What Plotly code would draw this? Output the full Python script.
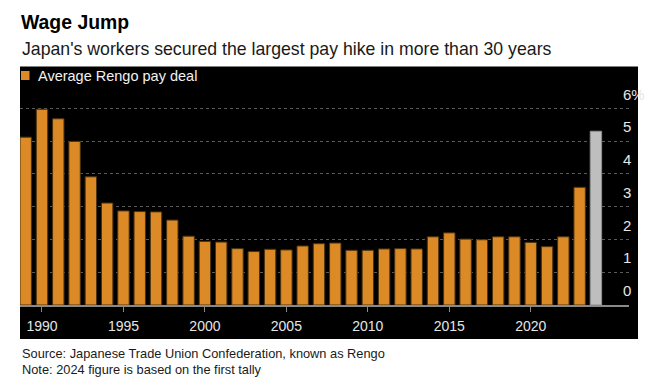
import plotly.graph_objects as go

years = list(range(1989, 2025))
pay_deal = [5.12, 5.97, 5.68, 4.99, 3.91, 3.11, 2.87, 2.85, 2.84, 2.59,
            2.10, 1.94, 1.92, 1.72, 1.63, 1.70, 1.68, 1.80, 1.87, 1.89,
            1.67, 1.67, 1.71, 1.72, 1.71, 2.08, 2.20, 2.01, 1.99, 2.08,
            2.08, 1.91, 1.78, 2.08, 3.59, 5.30]
preliminary_year = 2024
x_tick_vals = [1990, 1995, 2000, 2005, 2010, 2015, 2020]
y_tick_vals = [0, 1, 2, 3, 4, 5, 6]
y_tick_text = ["0", "1", "2", "3", "4", "5", "6%"]

# The page body has an 8px margin; work in reference-pixel coords and offset.
OFF = 8
W, H = 659 - OFF, 392 - 2 * OFF
L, R, B = 20, 629, 305          # plot area edges in reference px
UNIT = (305 - 108.7) / 6        # px per percentage point
YMAX = 6.1
T = B - YMAX * UNIT
pw, ph = R - L, B - T

def px_x(p):
    return (p - L) / pw

def px_y(p):
    return (B - p) / ph

ORANGE = "#DC8A25"
GREY = "#BEBEBE"
colors = [GREY if y == preliminary_year else ORANGE for y in years]
lines = ["#8f8f8f" if y == preliminary_year else "#4a3210" for y in years]

FONT = "Liberation Sans, Arial, sans-serif"

fig = go.Figure()
fig.add_trace(go.Bar(
    x=years, y=pay_deal, width=0.70,
    marker=dict(color=colors, line=dict(color=lines, width=1)),
    name="Average Rengo pay deal", showlegend=False,
    hoverinfo="x+y",
))

shapes = [
    dict(type="rect", xref="paper", yref="paper", layer="below",
         x0=px_x(20), x1=px_x(638), y0=px_y(339), y1=px_y(67),
         fillcolor="black", line=dict(width=0)),
    dict(type="rect", xref="paper", yref="paper",
         x0=px_x(21), x1=px_x(29.5), y0=px_y(80.5), y1=px_y(71.5),
         fillcolor=ORANGE, line=dict(width=0)),
]

annotations = [
    dict(text="<b>Wage Jump</b>", x=px_x(19), y=px_y(23), xref="paper", yref="paper",
         xanchor="left", yanchor="middle", showarrow=False,
         font=dict(family=FONT, size=19.4, color="#000000")),
    dict(text="Japan's workers secured the largest pay hike in more than 30 years",
         x=px_x(19.5), y=px_y(49.5), xref="paper", yref="paper",
         xanchor="left", yanchor="middle", showarrow=False,
         font=dict(family=FONT, size=17.7, color="#1a1a1a")),
    dict(text="Average Rengo pay deal", x=px_x(36), y=px_y(76), xref="paper", yref="paper",
         xanchor="left", yanchor="middle", showarrow=False,
         font=dict(family=FONT, size=14.5, color="#f2f2f2")),
    dict(text="Source: Japanese Trade Union Confederation, known as Rengo",
         x=px_x(20), y=px_y(353.5), xref="paper", yref="paper",
         xanchor="left", yanchor="middle", showarrow=False,
         font=dict(family=FONT, size=12.8, color="#1a1a1a")),
    dict(text="Note: 2024 figure is based on the first tally",
         x=px_x(20), y=px_y(369), xref="paper", yref="paper",
         xanchor="left", yanchor="middle", showarrow=False,
         font=dict(family=FONT, size=12.8, color="#1a1a1a")),
]

fig.update_layout(
    width=W, height=H,
    margin=dict(l=L - OFF, r=W - (R - OFF), t=T - OFF, b=H - (B - OFF), pad=0),
    paper_bgcolor="white", plot_bgcolor="black",
    shapes=shapes, annotations=annotations,
    font=dict(family=FONT),
    xaxis=dict(
        range=[1988.65, 2026.03], tickvals=x_tick_vals,
        ticks="outside", ticklen=5, tickcolor="#8a8a8a", tickwidth=1,
        showline=True, linecolor="#8a8a8a", linewidth=1.5,
        showgrid=False, zeroline=False, ticklabelstandoff=2,
        tickfont=dict(family=FONT, size=14, color="#e6e6e6"),
        fixedrange=True,
    ),
    yaxis=dict(
        range=[0, YMAX], side="right", tickvals=y_tick_vals, ticktext=y_tick_text,
        showgrid=True, gridcolor="#5a5a5a", griddash="dot", gridwidth=1,
        zeroline=False, showline=False, ticks="",
        ticklabelshift=-14, ticklabelstandoff=-7,
        tickfont=dict(family=FONT, size=15, color="#e6e6e6"),
        fixedrange=True,
    ),
)

fig.write_html("out.html")
